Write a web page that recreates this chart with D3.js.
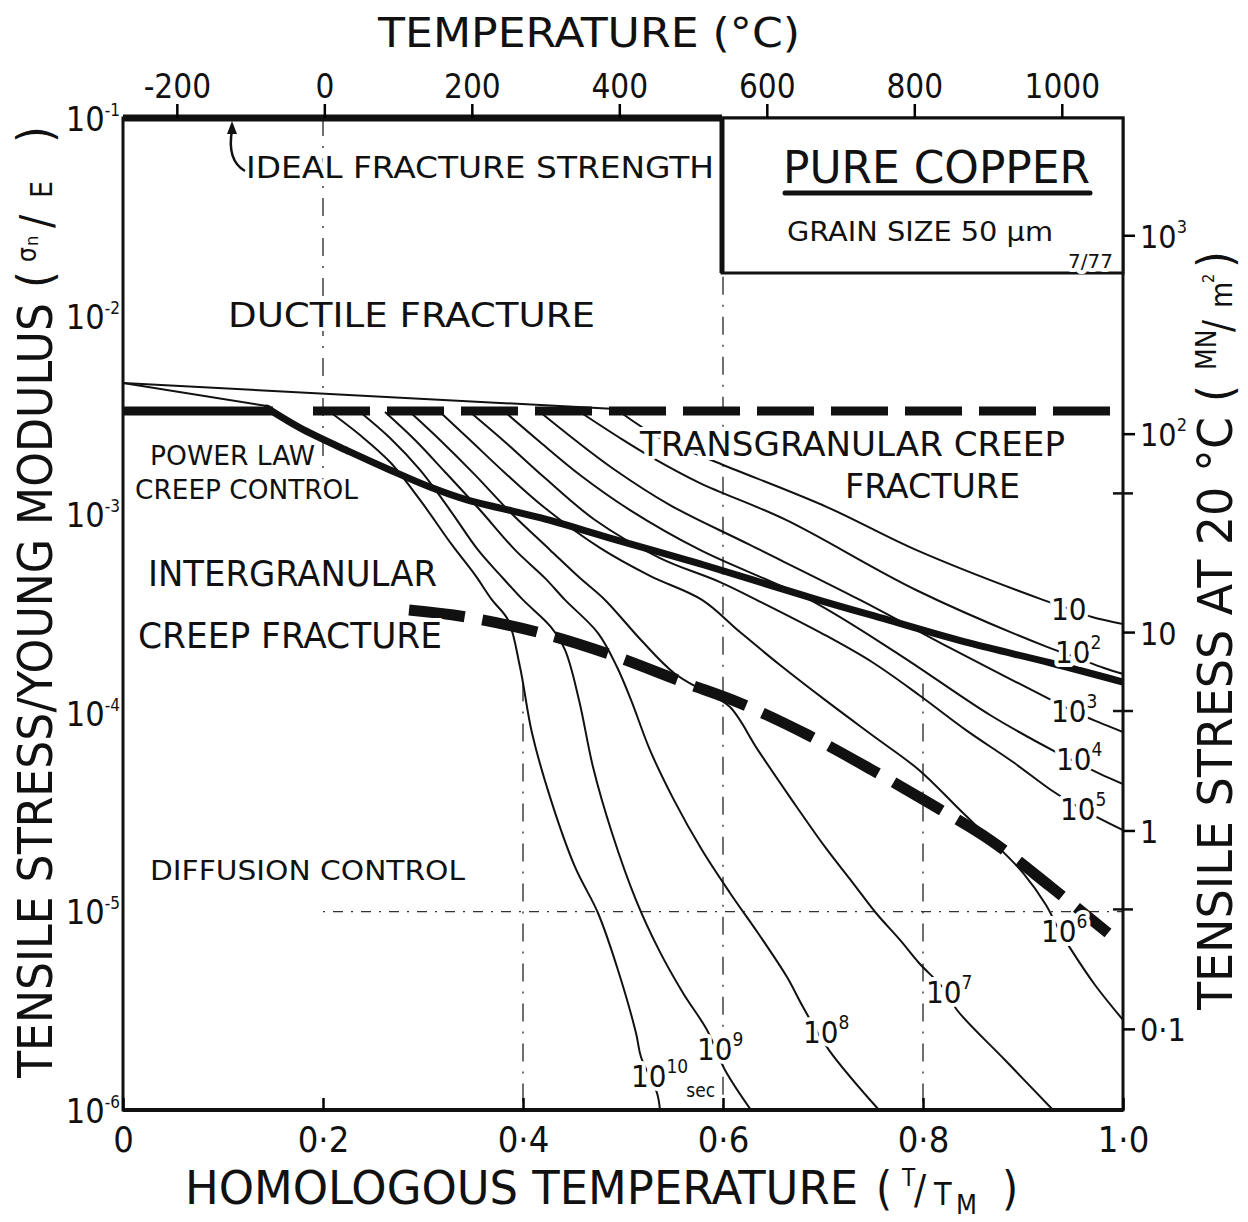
<!DOCTYPE html>
<html>
<head>
<meta charset="utf-8">
<title>Pure copper fracture map</title>
<script src="https://cdn.jsdelivr.net/npm/d3@7/dist/d3.min.js"></script>
<style>
	body { margin: 0; background: #fff; }
	svg text { font-family: "DejaVu Sans Condensed", "DejaVu Sans", sans-serif; fill: #111; }
	.halo { stroke: #fff; stroke-width: 8px; stroke-linejoin: round; paint-order: stroke; }
</style>
</head>
<body>
<svg id="chart" width="1248" height="1222"></svg>
<script>
	// axis values
	var homTicks = [0, 0.2, 0.4, 0.6, 0.8, 1.0];
	var homTickLabels = ["0", "0·2", "0·4", "0·6", "0·8", "1·0"];
	var tempTicks = [-200, 0, 200, 400, 600, 800, 1000];
	var stressTicks = [1e-1, 1e-2, 1e-3, 1e-4, 1e-5, 1e-6];
	var stressExp = ["-1", "-2", "-3", "-4", "-5", "-6"];
	var mnTicks = [1000, 100, 10, 1, 0.1];
	var mnBase = ["10", "10", "10", "1", "0·1"];
	var mnExp = ["3", "2", "", "", ""];
	var mnMinor = [50, 4, 0.4];
	var meltingK = 1356;
	var modulus20C = 3.9e4; // MN/m2

	// field boundaries, points are [T/TM, log10(sigma/E)]
	var idealStrength = [[0, -1], [0.599, -1]];
	var transgranularLimit = [[0, -2.477], [0.15, -2.477], [0.19, -2.477], [0.989, -2.477]];
	var fanTop = [[0, -2.336], [0.377, -2.436], [0.53, -2.477]];
	var fanLow = [[0, -2.336], [0.144, -2.452]];
	var powerLawLimit = [[0.144, -2.462], [0.177, -2.562], [0.227, -2.683], [0.267, -2.774], [0.307, -2.860], [0.344, -2.925], [0.377, -2.966], [0.418, -3.016], [0.487, -3.117], [0.581, -3.253], [0.695, -3.429], [0.765, -3.530], [0.846, -3.646], [0.928, -3.747], [1.0, -3.843]];
	var diffusionLimit = [[0.286, -3.480], [0.343, -3.515], [0.418, -3.596], [0.489, -3.707], [0.560, -3.843], [0.617, -3.949], [0.685, -4.110], [0.749, -4.286], [0.801, -4.438], [0.867, -4.639], [0.928, -4.876], [0.985, -5.108]];

	// time to fracture contours (seconds)
	var t1e1 = [[0.497, -2.482], [0.537, -2.613], [0.593, -2.734], [0.704, -2.961], [0.793, -3.177], [0.920, -3.429], [0.947, -3.475], [0.969, -3.515], [1.0, -3.550]];
	var t1e2 = [[0.457, -2.482], [0.497, -2.613], [0.530, -2.714], [0.577, -2.840], [0.663, -3.026], [0.793, -3.379], [0.924, -3.666], [0.952, -3.717], [0.981, -3.772], [1.0, -3.802]];
	var t1e3 = [[0.417, -2.482], [0.452, -2.623], [0.492, -2.774], [0.547, -2.951], [0.627, -3.152], [0.737, -3.429], [0.827, -3.671], [0.928, -3.933], [0.952, -3.994], [0.975, -4.044], [1.0, -4.095]];
	var t1e4 = [[0.382, -2.482], [0.417, -2.633], [0.457, -2.799], [0.507, -2.976], [0.577, -3.177], [0.687, -3.429], [0.777, -3.707], [0.867, -4.009], [0.933, -4.196], [0.957, -4.256], [0.977, -4.306], [1.0, -4.357]];
	var t1e5 = [[0.347, -2.482], [0.382, -2.633], [0.422, -2.815], [0.472, -3.026], [0.537, -3.218], [0.597, -3.339], [0.640, -3.445], [0.702, -3.606], [0.749, -3.742], [0.796, -3.908], [0.843, -4.085], [0.890, -4.246], [0.928, -4.387], [0.957, -4.478], [1.0, -4.589]];
	var t1e6 = [[0.317, -2.482], [0.347, -2.623], [0.382, -2.789], [0.422, -2.966], [0.477, -3.167], [0.527, -3.308], [0.579, -3.429], [0.617, -3.591], [0.657, -3.757], [0.702, -3.933], [0.749, -4.110], [0.796, -4.286], [0.837, -4.488], [0.871, -4.654], [0.900, -4.805], [0.923, -4.967], [0.935, -5.083], [0.947, -5.183], [0.972, -5.370], [1.0, -5.546]];
	var t1e7 = [[0.287, -2.482], [0.317, -2.623], [0.352, -2.799], [0.387, -2.986], [0.427, -3.177], [0.457, -3.319], [0.482, -3.429], [0.518, -3.631], [0.551, -3.797], [0.584, -3.898], [0.607, -3.969], [0.635, -4.186], [0.669, -4.438], [0.702, -4.674], [0.730, -4.856], [0.753, -5.007], [0.777, -5.143], [0.796, -5.259], [0.822, -5.395], [0.834, -5.496], [0.882, -5.748], [0.930, -6.0]];
	var t1e8 = [[0.262, -2.482], [0.292, -2.623], [0.322, -2.784], [0.357, -2.976], [0.392, -3.177], [0.422, -3.319], [0.442, -3.429], [0.475, -3.596], [0.494, -3.767], [0.508, -3.933], [0.527, -4.186], [0.551, -4.438], [0.579, -4.690], [0.607, -4.906], [0.635, -5.108], [0.664, -5.330], [0.680, -5.481], [0.706, -5.698], [0.756, -6.0]];
	var t1e9 = [[0.237, -2.482], [0.267, -2.613], [0.297, -2.774], [0.327, -2.976], [0.355, -3.177], [0.377, -3.303], [0.400, -3.429], [0.428, -3.566], [0.442, -3.681], [0.456, -3.933], [0.470, -4.271], [0.489, -4.604], [0.513, -4.942], [0.536, -5.194], [0.560, -5.410], [0.584, -5.597], [0.602, -5.798], [0.628, -6.0]];
	var t1e10 = [[0.207, -2.482], [0.237, -2.598], [0.267, -2.734], [0.297, -2.925], [0.329, -3.152], [0.352, -3.303], [0.369, -3.429], [0.385, -3.530], [0.397, -3.767], [0.409, -4.100], [0.428, -4.438], [0.452, -4.775], [0.475, -5.007], [0.494, -5.279], [0.513, -5.612], [0.518, -5.733], [0.534, -5.914], [0.537, -6.0]];
	var contours = [t1e1, t1e2, t1e3, t1e4, t1e5, t1e6, t1e7, t1e8, t1e9, t1e10];
	var contourExp = ["", "2", "3", "4", "5", "6", "7", "8", "9", "10"];

	// guide lines: vertical [T/TM, top, bottom] and the horizontal one at 1e-5
	var guideV = [[0.2, -1, -2.9], [0.4, -3.85, -6], [0.6, -1.8, -6], [0.8, -3.85, -6]];
	var guideH = [[0.2, -5], [1.0, -5]];

	var W = 1248, H = 1222;
	var M = {left: 123, right: 1123, top: 118, bottom: 1110};

	var x = d3.scaleLinear().domain([0, 1]).range([M.left, M.right]);
	var y = d3.scaleLog().domain([1e-6, 1e-1]).range([M.bottom, M.top]);
	var xT = d3.scaleLinear().domain([-273, meltingK - 273]).range([M.left, M.right]);
	var yR = d3.scaleLog().domain([1e-6 * modulus20C, 1e-1 * modulus20C]).range([M.bottom, M.top]);
	var yL = function(e){ return y(Math.pow(10, e)); };

	var smooth = d3.line().x(function(d){ return x(d[0]); }).y(function(d){ return yL(d[1]); })
		.curve(d3.curveCatmullRom.alpha(0.5));
	var straight = d3.line().x(function(d){ return x(d[0]); }).y(function(d){ return yL(d[1]); });

	var svg = d3.select("#chart");
	svg.append("rect").attr("width", W).attr("height", H).attr("fill", "#fff");

	svg.append("clipPath").attr("id", "plotclip")
		.append("rect").attr("x", M.left).attr("y", M.top)
		.attr("width", M.right - M.left).attr("height", M.bottom - M.top);

	var plot = svg.append("g").attr("clip-path", "url(#plotclip)");

	// guides
	guideV.forEach(function(g){
		plot.append("line")
			.attr("x1", x(g[0])).attr("x2", x(g[0]))
			.attr("y1", yL(g[1])).attr("y2", yL(g[2]))
			.attr("stroke", "#333").attr("stroke-width", 1.4)
			.attr("stroke-dasharray", "18,10,2,10");
	});
	plot.append("path").attr("d", straight(guideH)).attr("fill", "none")
		.attr("stroke", "#333").attr("stroke-width", 1.4).attr("stroke-dasharray", "2,8,10,8");

	// contours
	contours.forEach(function(c){
		plot.append("path").attr("d", smooth(c)).attr("fill", "none")
			.attr("stroke", "#111").attr("stroke-width", 2);
	});

	plot.append("path").attr("d", straight(fanTop)).attr("fill", "none").attr("stroke", "#111").attr("stroke-width", 2);
	plot.append("path").attr("d", straight(fanLow)).attr("fill", "none").attr("stroke", "#111").attr("stroke-width", 2);

	// field boundaries
	plot.append("path").attr("d", smooth(powerLawLimit)).attr("fill", "none")
		.attr("stroke", "#111").attr("stroke-width", 7).attr("stroke-linecap", "round");
	plot.append("path").attr("d", straight(transgranularLimit.slice(0, 2))).attr("fill", "none")
		.attr("stroke", "#111").attr("stroke-width", 9);
	plot.append("path").attr("d", straight(transgranularLimit.slice(2))).attr("fill", "none")
		.attr("stroke", "#111").attr("stroke-width", 9).attr("stroke-dasharray", "57,17");
	plot.append("path").attr("d", smooth(diffusionLimit)).attr("fill", "none")
		.attr("stroke", "#111").attr("stroke-width", 11).attr("stroke-dasharray", "56,18");

	// frame
	svg.append("rect").attr("x", M.left).attr("y", M.top)
		.attr("width", M.right - M.left).attr("height", M.bottom - M.top)
		.attr("fill", "none").attr("stroke", "#111").attr("stroke-width", 3);
	svg.append("line").attr("x1", M.left).attr("x2", M.right).attr("y1", M.bottom).attr("y2", M.bottom)
		.attr("stroke", "#111").attr("stroke-width", 4);

	svg.append("path").attr("d", straight(idealStrength)).attr("fill", "none")
		.attr("stroke", "#111").attr("stroke-width", 7);

	// copper box
	var bx = x(0.599), by = 273;
	svg.append("rect").attr("x", bx).attr("y", M.top).attr("width", M.right - bx).attr("height", by - M.top)
		.attr("fill", "#fff").attr("stroke", "#111").attr("stroke-width", 3);
	svg.append("line").attr("x1", bx).attr("x2", bx).attr("y1", M.top).attr("y2", by)
		.attr("stroke", "#111").attr("stroke-width", 5);

	// axes
	var topAxis = svg.append("g").attr("transform", "translate(0," + M.top + ")")
		.call(d3.axisTop(xT).tickValues(tempTicks).tickSize(14).tickPadding(6).tickFormat(function(d){ return String(d); }));
	topAxis.attr("font-size", 33);
	topAxis.select(".domain").remove();
	topAxis.selectAll("line").attr("stroke-width", 2.5);

	var bottomAxis = svg.append("g").attr("transform", "translate(0," + M.bottom + ")")
		.call(d3.axisBottom(x).tickValues(homTicks).tickSizeInner(-12).tickSizeOuter(0).tickPadding(16)
			.tickFormat(function(d, i){ return homTickLabels[i]; }));
	bottomAxis.attr("font-size", 36);
	bottomAxis.select(".domain").remove();
	bottomAxis.selectAll("line").attr("stroke-width", 2.5);

	var leftAxis = svg.append("g").attr("transform", "translate(" + M.left + ",0)")
		.call(d3.axisLeft(y).tickValues(stressTicks).tickSize(0));
	leftAxis.select(".domain").remove();
	leftAxis.selectAll("text").remove();
	leftAxis.selectAll(".tick").each(function(d, i){
		var t = d3.select(this).append("text").attr("x", -3).attr("y", 12)
			.attr("text-anchor", "end").attr("font-size", 34);
		t.append("tspan").text("10");
		t.append("tspan").attr("font-size", 17).attr("dy", -15).text(stressExp[i]);
	});

	var rightAxis = svg.append("g").attr("transform", "translate(" + M.right + ",0)")
		.call(d3.axisRight(yR).tickValues(mnTicks).tickSize(12));
	rightAxis.select(".domain").remove();
	rightAxis.selectAll("text").remove();
	rightAxis.selectAll("line").attr("stroke-width", 2.5);
	rightAxis.selectAll(".tick").each(function(d, i){
		var t = d3.select(this).append("text").attr("x", 17).attr("y", 12)
			.attr("text-anchor", "start").attr("font-size", 32);
		t.append("tspan").text(mnBase[i]);
		if (mnExp[i]) t.append("tspan").attr("font-size", 18).attr("dy", -15).text(mnExp[i]);
	});
	mnMinor.forEach(function(v){
		svg.append("line").attr("x1", M.right - 10).attr("x2", M.right + 10)
			.attr("y1", yR(v)).attr("y2", yR(v)).attr("stroke", "#111").attr("stroke-width", 2.5);
	});

	// contour labels, anchored at [T/TM, log10(sigma/E)] of the label baseline start
	var labelSpots = [[0.928, -3.530], [0.932, -3.747], [0.928, -4.044], [0.933, -4.286], [0.937, -4.538],
		[0.918, -5.153], [0.803, -5.461], [0.680, -5.662], [0.574, -5.748], [0.508, -5.884]];
	labelSpots.forEach(function(p, i){
		var t = svg.append("text").attr("class", "halo").attr("x", x(p[0])).attr("y", yL(p[1])).attr("font-size", 31);
		t.append("tspan").text("10");
		if (contourExp[i]) t.append("tspan").attr("font-size", 19).attr("dy", -14).text(contourExp[i]);
		if (i == 9) t.append("tspan").attr("font-size", 19).attr("dx", -2).attr("dy", 24).text("sec");
	});

	function label(txt, x0, yb, size, len){
		var t = svg.append("text").attr("class", "halo").attr("x", x0).attr("y", yb)
			.attr("font-size", size).text(txt);
		if (len) t.attr("textLength", len).attr("lengthAdjust", "spacingAndGlyphs");
		return t;
	}

	label("IDEAL FRACTURE STRENGTH", 246, 178, 31, 468);
	svg.append("path").attr("d", "M245,171 C231,163 229,147 232,130").attr("fill", "none")
		.attr("stroke", "#111").attr("stroke-width", 2.5);
	svg.append("path").attr("d", "M232,121 L227,134 L237,134 Z").attr("fill", "#111");

	label("DUCTILE  FRACTURE", 228, 327, 34, 367);
	label("POWER LAW", 150, 465, 27, 165);
	label("CREEP CONTROL", 135, 499, 27, 223);
	label("TRANSGRANULAR CREEP", 640, 456, 34, 425);
	label("FRACTURE", 845, 498, 34, 175);
	label("INTERGRANULAR", 148, 586, 35, 289);
	label("CREEP FRACTURE", 138, 648, 35, 304);
	label("DIFFUSION  CONTROL", 150, 880, 27, 315);

	label("PURE COPPER", 783, 183, 44, 307);
	svg.append("line").attr("x1", 785).attr("x2", 1090).attr("y1", 193).attr("y2", 193)
		.attr("stroke", "#111").attr("stroke-width", 5).attr("stroke-linecap", "round");
	label("GRAIN SIZE  50 µm", 787, 241, 26, 266);
	label("7/77", 1068, 268, 20, 45);

	// titles
	svg.append("text").attr("x", 378).attr("y", 47).attr("font-size", 41)
		.attr("textLength", 422).attr("lengthAdjust", "spacingAndGlyphs").text("TEMPERATURE  (°C)");

	svg.append("text").attr("x", 185).attr("y", 1204).attr("font-size", 46)
		.attr("textLength", 673).attr("lengthAdjust", "spacingAndGlyphs").text("HOMOLOGOUS  TEMPERATURE");
	svg.append("text").attr("x", 876).attr("y", 1204).attr("font-size", 46).text("(");
	svg.append("text").attr("x", 902).attr("y", 1186).attr("font-size", 24).text("T");
	svg.append("text").attr("x", 914).attr("y", 1204).attr("font-size", 40).text("/");
	svg.append("text").attr("x", 934).attr("y", 1205).attr("font-size", 32).text("T");
	svg.append("text").attr("x", 956).attr("y", 1214).attr("font-size", 27).text("M");
	svg.append("text").attr("x", 1002).attr("y", 1204).attr("font-size", 46).text(")");

	var lt = svg.append("g").attr("transform", "translate(52,1078) rotate(-90)");
	lt.append("text").attr("x", 0).attr("y", 0).attr("font-size", 48)
		.attr("textLength", 775).attr("lengthAdjust", "spacingAndGlyphs").text("TENSILE STRESS/YOUNG MODULUS");
	lt.append("text").attr("x", 790).attr("y", 0).attr("font-size", 48).text("(");
	lt.append("text").attr("x", 816).attr("y", -16).attr("font-size", 26).text("σ");
	lt.append("text").attr("x", 832).attr("y", -14).attr("font-size", 18).text("n");
	lt.append("text").attr("x", 850).attr("y", 0).attr("font-size", 44).text("/");
	lt.append("text").attr("x", 880).attr("y", 0).attr("font-size", 30).text("E");
	lt.append("text").attr("x", 935).attr("y", 0).attr("font-size", 48).text(")");

	var rt = svg.append("g").attr("transform", "translate(1232,1010) rotate(-90)");
	rt.append("text").attr("x", 0).attr("y", 0).attr("font-size", 48)
		.attr("textLength", 593).attr("lengthAdjust", "spacingAndGlyphs").text("TENSILE STRESS AT 20 °C");
	rt.append("text").attr("x", 608).attr("y", 0).attr("font-size", 48).text("(");
	rt.append("text").attr("x", 640).attr("y", -16).attr("font-size", 28).text("MN");
	rt.append("text").attr("x", 678).attr("y", 0).attr("font-size", 40).text("/");
	rt.append("text").attr("x", 702).attr("y", 0).attr("font-size", 30).text("m");
	rt.append("text").attr("x", 727).attr("y", -18).attr("font-size", 16).text("2");
	rt.append("text").attr("x", 742).attr("y", 0).attr("font-size", 48).text(")");
</script>
</body>
</html>
